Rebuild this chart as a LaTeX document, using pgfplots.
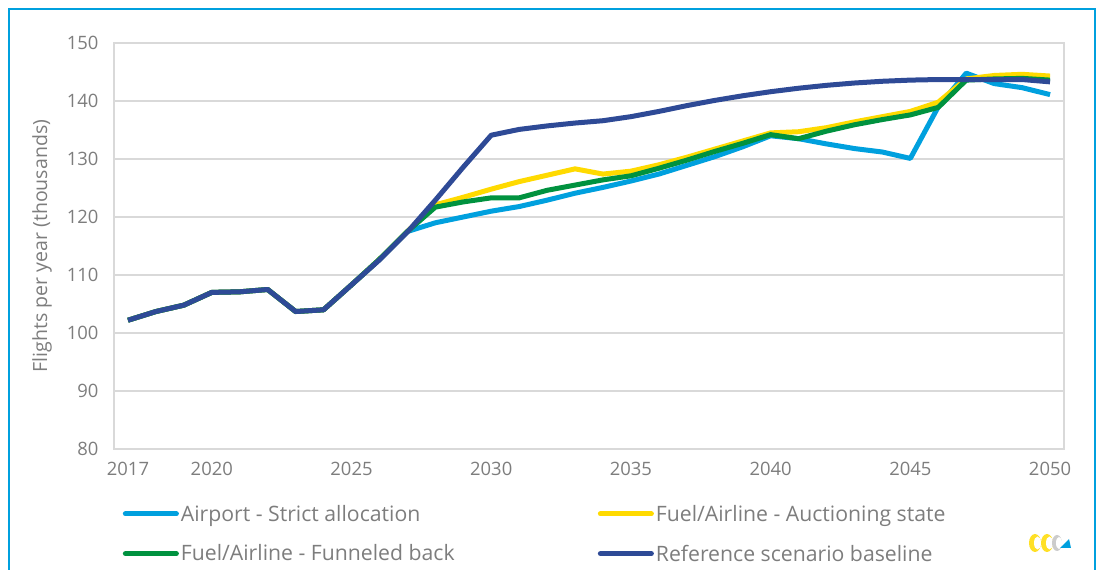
\documentclass[border=0pt]{standalone}
\usepackage{pgfplots}
\pgfplotsset{compat=1.18}
\usepackage{fontspec}
\setmainfont{Open Sans}
\definecolor{cAir}{RGB}{0,160,222}
\definecolor{cAuc}{RGB}{255,218,0}
\definecolor{cFun}{RGB}{0,146,63}
\definecolor{cRef}{RGB}{46,74,150}
\definecolor{gridc}{RGB}{217,217,217}
\definecolor{labc}{RGB}{125,125,125}
\definecolor{framec}{RGB}{0,160,222}
\begin{document}
\begin{tikzpicture}[x=1bp,y=1bp]
\useasboundingbox (0,0) rectangle (1097,570);
\draw[framec, line width=1.5bp] (9,-5) -- (9,561) -- (1095,561) -- (1095,-5);
% logo approximation
\fill[cAuc!85!white] (1035,27) ellipse (6bp and 9bp);
\fill[white] (1037.5,27) ellipse (3.5bp and 6.5bp);
\fill[cAuc!85!white] (1047,27) ellipse (6bp and 9bp);
\fill[white] (1049.5,27) ellipse (3.5bp and 6.5bp);
\fill[gray!40] (1057,27) ellipse (5bp and 8bp);
\fill[white] (1059,27) ellipse (3bp and 6bp);
\fill[cAir] (1060,22) -- (1071,22) -- (1069,31) -- cycle;
\begin{axis}[
  at={(114bp,121bp)}, anchor=south west,
  scale only axis, width=950bp, height=406bp,
  xmin=2016.5, xmax=2050.5, ymin=80, ymax=150,
  xtick={2017,2020,2025,2030,2035,2040,2045,2050},
  ytick={80,90,100,110,120,130,140,150},
  ymajorgrids, grid style={gridc, line width=1.3bp},
  axis line style={gridc, line width=1.3bp},
  major tick length=0pt,
  tick style={draw=none},
  /pgf/number format/assume math mode=true,
  /pgf/number format/1000 sep={},
  ticklabel style={font=\fontsize{18.5}{22}\selectfont, text=labc},
  xticklabel style={yshift=-10bp},
  yticklabel style={xshift=-12bp},
  every axis y label/.style={at={(axis description cs:-0.0758,0.5)}, rotate=90, anchor=center},
  ylabel={Flights per year (thousands)},
  ylabel style={font=\fontsize{19.6}{22}\selectfont, text=labc},
  legend columns=2,
  legend cell align=left,
  legend style={at={(axis description cs:0.006,-0.128)}, anchor=north west,
    draw=none, fill=none, font=\fontsize{21.3}{24}\selectfont, text=labc,
    row sep=18bp, nodes={inner sep=2bp}},
  legend image code/.code={\draw[#1, line cap=round] (0bp,0bp) -- (51bp,0bp);},
  every axis plot/.append style={line width=5bp, line join=round},
]
\addplot[cAir] coordinates {(2017,102.2)(2018,103.7)(2019,104.8)(2020,107.0)(2021,107.1)(2022,107.5)(2023,103.7)(2024,104.0)(2025,108.3)(2026,112.7)(2027,117.5)(2028,119.0)(2029,120.0)(2030,121.0)(2031,121.8)(2032,122.9)(2033,124.1)(2034,125.1)(2035,126.2)(2036,127.4)(2037,128.9)(2038,130.4)(2039,132.1)(2040,134.0)(2041,133.5)(2042,132.6)(2043,131.8)(2044,131.2)(2045,130.1)(2046,139.0)(2047,144.8)(2048,143.0)(2049,142.3)(2050,141.1)};
\addlegendentry{\makebox[415bp][l]{Airport - Strict allocation}}
\addplot[cAuc] coordinates {(2017,102.2)(2018,103.7)(2019,104.8)(2020,107.0)(2021,107.1)(2022,107.5)(2023,103.7)(2024,104.0)(2025,108.3)(2026,112.7)(2027,117.5)(2028,122.1)(2029,123.4)(2030,124.8)(2031,126.1)(2032,127.2)(2033,128.3)(2034,127.4)(2035,127.9)(2036,129.0)(2037,130.3)(2038,131.7)(2039,133.1)(2040,134.5)(2041,134.7)(2042,135.4)(2043,136.4)(2044,137.3)(2045,138.2)(2046,139.8)(2047,143.8)(2048,144.4)(2049,144.6)(2050,144.3)};
\addlegendentry{Fuel/Airline - Auctioning state}
\addplot[cFun] coordinates {(2017,102.2)(2018,103.7)(2019,104.8)(2020,107.0)(2021,107.1)(2022,107.5)(2023,103.7)(2024,104.0)(2025,108.3)(2026,112.7)(2027,117.5)(2028,121.7)(2029,122.6)(2030,123.3)(2031,123.3)(2032,124.6)(2033,125.5)(2034,126.4)(2035,127.1)(2036,128.4)(2037,129.8)(2038,131.3)(2039,132.7)(2040,134.2)(2041,133.5)(2042,134.8)(2043,135.9)(2044,136.8)(2045,137.6)(2046,138.9)(2047,143.6)(2048,143.8)(2049,143.9)(2050,143.6)};
\addlegendentry{\makebox[415bp][l]{Fuel/Airline - Funneled back}}
\addplot[cRef] coordinates {(2017,102.2)(2018,103.7)(2019,104.8)(2020,107.0)(2021,107.1)(2022,107.5)(2023,103.7)(2024,104.0)(2025,108.3)(2026,112.6)(2027,117.4)(2028,122.9)(2029,128.6)(2030,134.1)(2031,135.1)(2032,135.7)(2033,136.2)(2034,136.6)(2035,137.3)(2036,138.2)(2037,139.2)(2038,140.1)(2039,140.9)(2040,141.6)(2041,142.2)(2042,142.7)(2043,143.1)(2044,143.4)(2045,143.6)(2046,143.7)(2047,143.7)(2048,143.7)(2049,143.7)(2050,143.3)};
\addlegendentry{Reference scenario baseline}
\end{axis}
\end{tikzpicture}
\end{document}
